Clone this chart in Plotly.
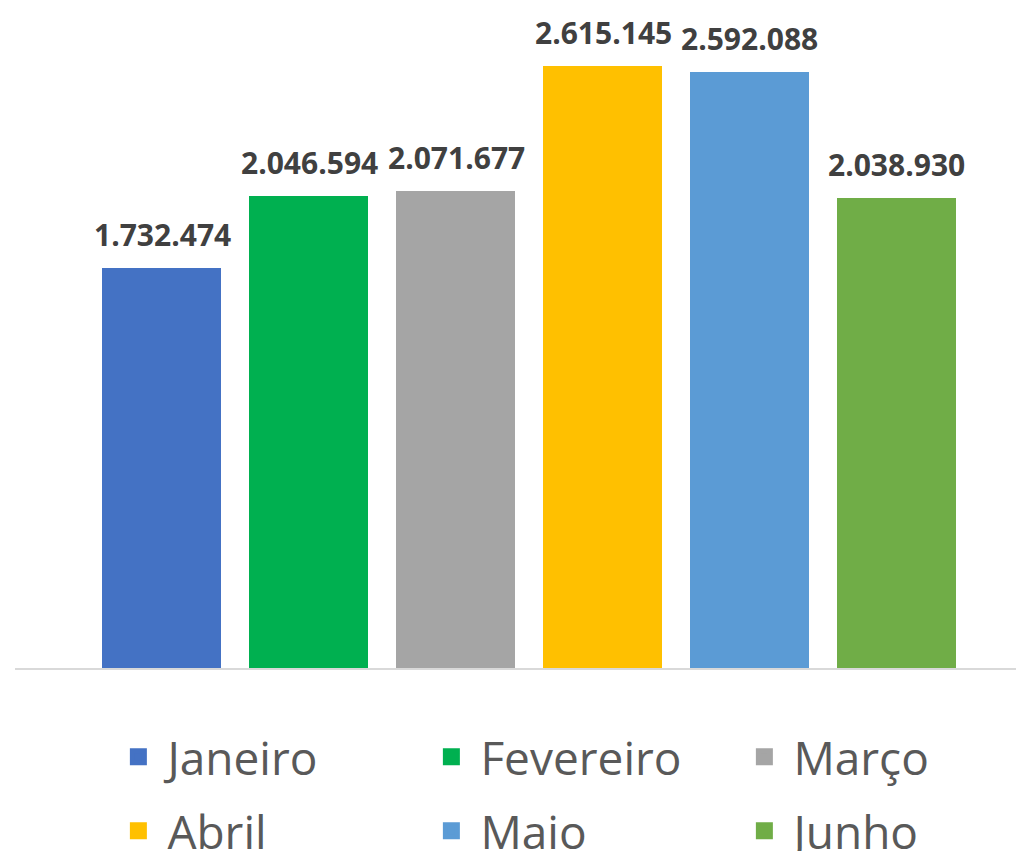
import plotly.graph_objects as go

months = ["Janeiro", "Fevereiro", "Março", "Abril", "Maio", "Junho"]
values = [1732474, 2046594, 2071677, 2615145, 2592088, 2038930]
labels = ["1.732.474", "2.046.594", "2.071.677", "2.615.145", "2.592.088", "2.038.930"]
colors = ["#4472C4", "#00B050", "#A5A5A5", "#FFC000", "#5B9BD5", "#70AD47"]

fig = go.Figure()
for i, (m, v, c) in enumerate(zip(months, values, colors)):
    fig.add_trace(go.Bar(
        x=[i], y=[v], name=m, width=0.769,
        marker=dict(color=c, line=dict(color=c, width=5)),
        legend="legend" if i < 3 else "legend2",
        hoverinfo="skip",
    ))
    fig.add_annotation(
        x=i, y=v, text=labels[i], showarrow=False, yanchor="bottom", yshift=14,
        font=dict(family="Open Sans", size=30, color="#404040", weight="bold"),
    )

legend_common = dict(
    orientation="h", xref="container", yref="container", xanchor="left", yanchor="middle",
    entrywidth=250, entrywidthmode="pixels", itemwidth=48,
    font=dict(family="Open Sans", size=46, color="#595959"),
    bgcolor="rgba(0,0,0,0)", itemclick=False, itemdoubleclick=False,
)

fig.update_layout(
    width=1024, height=851,
    margin=dict(l=7, r=8, t=8, b=191, autoexpand=False),
    paper_bgcolor="white", plot_bgcolor="white",
    showlegend=True,
    legend=dict(x=0.099, y=0.1199, **legend_common),
    legend2=dict(x=0.099, y=0.0330, **legend_common),
    xaxis=dict(range=[-1.0, 5.864], showticklabels=False, showgrid=False, zeroline=False,
               showline=True, linecolor="#D9D9D9", linewidth=2, ticks=""),
    yaxis=dict(range=[0, 2848100], visible=False, showgrid=False, zeroline=False),
    bargap=0,
)

fig.write_html("out.html")
